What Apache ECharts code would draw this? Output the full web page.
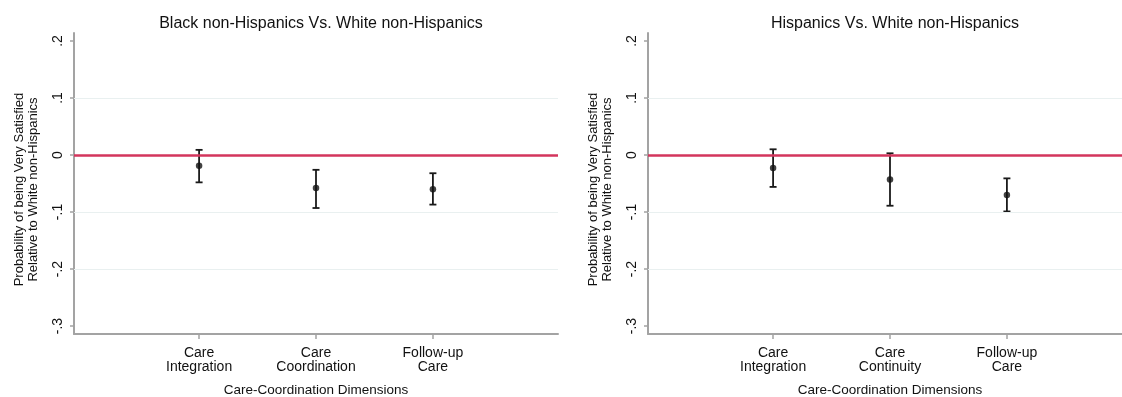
<!DOCTYPE html>
<html>
<head>
<meta charset="utf-8">
<script src="https://cdn.jsdelivr.net/npm/echarts@6/dist/echarts.min.js"></script>
<style>
html,body{margin:0;padding:0;background:#fff;}
#chart{width:1122px;height:397px;}
</style>
</head>
<body>
<div id="chart"></div>
<script>
// ---- data ----
var titleLeft = 'Black non-Hispanics Vs. White non-Hispanics';
var titleRight = 'Hispanics Vs. White non-Hispanics';
var categoriesLeft = ['Care\nIntegration', 'Care\nCoordination', 'Follow-up\nCare'];
var categoriesRight = ['Care\nIntegration', 'Care\nContinuity', 'Follow-up\nCare'];
var positions = [1, 2, 3];
var estLeft = [-0.019, -0.058, -0.060];
var loLeft = [-0.048, -0.093, -0.087];
var hiLeft = [0.009, -0.026, -0.032];
var estRight = [-0.023, -0.043, -0.070];
var loRight = [-0.056, -0.089, -0.099];
var hiRight = [0.010, 0.003, -0.041];
var yTicks = [-0.3, -0.2, -0.1, 0, 0.1, 0.2];
var gridValues = [-0.2, -0.1, 0.1];
var refValue = 0;
var yName = 'Probability of being Very Satisfied\nRelative to White non-Hispanics';
var xName = 'Care-Coordination Dimensions';

// ---- chart ----
var FONT = '"Liberation Sans", Arial, sans-serif';
var chart = echarts.init(document.getElementById('chart'), null, {renderer: 'canvas'});

function fmtTick(v) {
  var r = Math.round(v * 10) / 10;
  if (r === 0) return '0';
  var s = String(r);
  return s.replace('0.', '.');
}

function makeX(idx, cats) {
  return {
    type: 'value', gridIndex: idx, min: -0.07, max: 4.07,
    axisLine: {show: true, onZero: false, lineStyle: {color: '#a3a3a3', width: 2}},
    axisTick: {show: true, customValues: positions, length: 5, lineStyle: {color: '#a3a3a3', width: 1.5}},
    axisLabel: {
      customValues: positions, margin: 12, fontSize: 14, lineHeight: 14, color: '#111', fontFamily: FONT,
      formatter: function (v) { return cats[Math.round(v) - 1] || ''; }
    },
    splitLine: {show: false},
    name: xName, nameLocation: 'middle', nameGap: 49,
    nameTextStyle: {fontSize: 13.5, color: '#111', fontFamily: FONT}
  };
}
function makeY(idx) {
  return {
    type: 'value', gridIndex: idx, min: -0.314, max: 0.214,
    axisLine: {show: true, onZero: false, lineStyle: {color: '#a3a3a3', width: 2}},
    axisTick: {show: true, customValues: yTicks, length: 4, lineStyle: {color: '#a3a3a3', width: 1.5}},
    axisLabel: {
      customValues: yTicks, rotate: 90, margin: 9, fontSize: 14, color: '#111', fontFamily: FONT,
      formatter: fmtTick
    },
    splitLine: {show: false},
    name: yName, nameLocation: 'middle', nameGap: 34,
    nameTextStyle: {fontSize: 13, lineHeight: 14, color: '#111', fontFamily: FONT, padding: [0, 12, 0, 0]}
  };
}

function errRender(lo, hi) {
  return function (params, api) {
    var x = api.value(0);
    var p1 = api.coord([x, api.value(1)]);
    var p2 = api.coord([x, api.value(2)]);
    var w = 3.5;
    var st = {stroke: '#1a1a1a', lineWidth: 1.8};
    return {
      type: 'group',
      children: [
        {type: 'line', shape: {x1: p1[0], y1: p1[1], x2: p2[0], y2: p2[1]}, style: st},
        {type: 'line', shape: {x1: p1[0] - w, y1: p1[1], x2: p1[0] + w, y2: p1[1]}, style: st},
        {type: 'line', shape: {x1: p2[0] - w, y1: p2[1], x2: p2[0] + w, y2: p2[1]}, style: st}
      ]
    };
  };
}

function panelSeries(idx, est, lo, hi) {
  var errData = positions.map(function (p, i) { return [p, lo[i], hi[i]]; });
  var ptData = positions.map(function (p, i) { return [p, est[i]]; });
  return [
    {
      type: 'line', xAxisIndex: idx, yAxisIndex: idx, data: [], silent: true,
      markLine: {
        silent: true, symbol: 'none', label: {show: false}, animation: false,
        lineStyle: {color: '#e9f0f0', width: 1, type: 'solid'},
        data: gridValues.map(function (v) { return {yAxis: v}; })
      }
    },
    {
      type: 'line', xAxisIndex: idx, yAxisIndex: idx, data: [], silent: true,
      markLine: {
        silent: true, symbol: 'none', label: {show: false}, animation: false,
        lineStyle: {color: '#d3355c', width: 2.5, type: 'solid'},
        data: [{yAxis: refValue}]
      }
    },
    {
      type: 'custom', xAxisIndex: idx, yAxisIndex: idx, data: errData,
      renderItem: errRender(lo, hi), encode: {x: 0, y: [1, 2]}, z: 3, animation: false
    },
    {
      type: 'scatter', xAxisIndex: idx, yAxisIndex: idx, data: ptData,
      symbol: 'circle', symbolSize: 6.5, itemStyle: {color: '#111'}, z: 4, animation: false
    }
  ];
}

var option = {
  backgroundColor: '#fff',
  animation: false,
  title: [
    {text: titleLeft, left: 316, top: 11, textAlign: 'center',
     textStyle: {fontSize: 16, fontWeight: 'normal', color: '#111', fontFamily: FONT}},
    {text: titleRight, left: 890, top: 11, textAlign: 'center',
     textStyle: {fontSize: 16, fontWeight: 'normal', color: '#111', fontFamily: FONT}}
  ],
  grid: [
    {left: 74, right: 564, top: 33, bottom: 63, containLabel: false, outerBoundsMode: 'none'},
    {left: 648, right: -10, top: 33, bottom: 63, containLabel: false, outerBoundsMode: 'none'}
  ],
  xAxis: [makeX(0, categoriesLeft), makeX(1, categoriesRight)],
  yAxis: [makeY(0), makeY(1)],
  series: panelSeries(0, estLeft, loLeft, hiLeft).concat(panelSeries(1, estRight, loRight, hiRight))
};
chart.setOption(option);
</script>
</body>
</html>
